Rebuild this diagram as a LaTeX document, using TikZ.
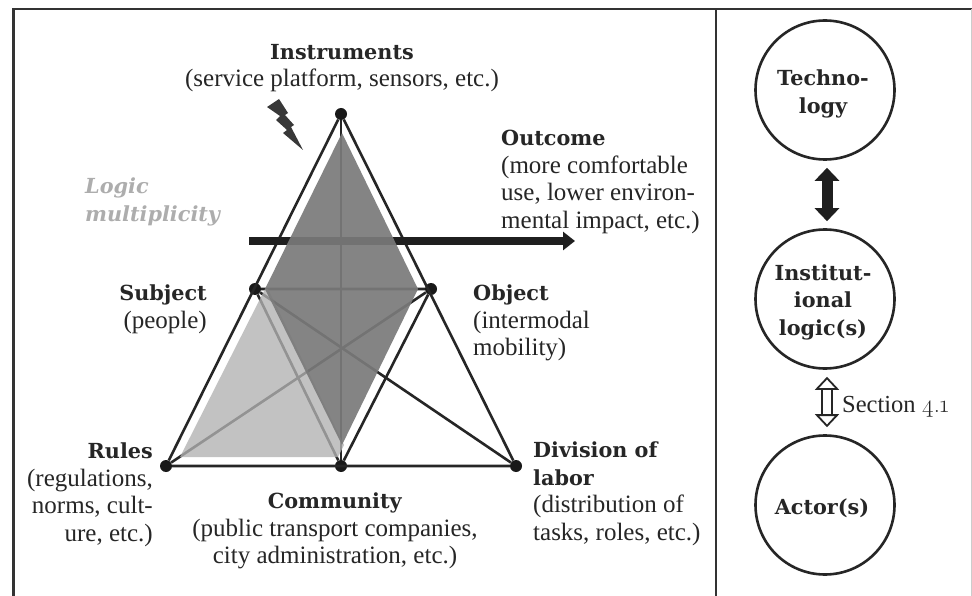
\documentclass[tikz,border=0pt]{standalone}
\usepackage{xcolor}
\usepackage{fontspec}
\setmainfont{Liberation Serif}[
    BoldFont={DejaVu Serif Bold}, BoldFeatures={Scale=.83},
    BoldItalicFont={DejaVu Serif Bold Italic}, BoldItalicFeatures={Scale=.83}]
\newfontfamily\oldnums[Numbers=OldStyle]{Latin Modern Roman}
\usetikzlibrary{arrows.meta}

\tikzset{
    body/.style={inner sep=0, font=\fontsize{25}{27.5}\selectfont, text=black!85},
    dot/.style={circle, fill=black!90, inner sep=0, minimum size=12},
    edge/.style={line width=2.6, black!85},
    lens/.style={draw=black!85, line width=2.6, circle, minimum size=139, inner sep=0},
    lenstext/.style={body, align=center, font=\fontsize{25}{27.5}\selectfont\bfseries},
    fatlink/.style={line width=11, black!88, {Triangle[length=13,width=24]}-{Triangle[length=13,width=24]}},
    hollowlink/.style={double=white, double distance=8, line width=1.8, black!85,
        {Triangle[open,fill=white,length=13,width=24,line width=1.8]}-{Triangle[open,fill=white,length=13,width=24,line width=1.8]}},
}

\begin{document}
\begin{tikzpicture}[x=1pt, y=-1pt]
    \useasboundingbox (0,0) rectangle (972,596);
    \fill[white] (0,0) rectangle (972,596);

    % frame
    \draw[line width=2.8, black!80] (13.5,596) -- (13.5,9) -- (972,9);
    \draw[line width=2.8, black!80] (716,9) -- (716,596);
    \draw[line width=.6, black!20] (971.5,9) -- (971.5,596);

    % activity system
    \node[dot] (instr) at (341,114) {};
    \node[dot] (subj) at (255,289) {};
    \node[dot] (obj) at (431,289) {};
    \node[dot] (rules) at (166,466) {};
    \node[dot] (comm) at (341,466) {};
    \node[dot] (div) at (516,466) {};

    \draw[edge] (instr) -- (rules) -- (div) -- (instr);
    \draw[edge] (subj) -- (obj) -- (comm) -- (subj);
    \draw[edge] (instr) -- (comm);
    \draw[edge] (rules) -- (obj);
    \draw[edge] (subj) -- (div);

    % outcome arrow
    \coordinate (barstart) at (249,241);
    \coordinate (barend) at (575,241);
    \draw[line width=8.5, black!88, -{Triangle[length=12,width=18]}] (barstart) -- (barend);

    % shaded areas
    \fill[black!30, fill opacity=.78] (261.5,296) -- (180,457) -- (338,457) -- (344,445) -- (268,289) -- (265,289) -- cycle;
    \fill[black!52, fill opacity=.92] (342,133) -- (418,289) -- (342,445) -- (265,289) -- cycle;

    % flash
    \fill[black!78] (267,107) -- (279,99) -- (288,113) -- (285,115) -- (294,125) -- (291,127)
        -- (303,150) -- (283,133) -- (287,130) -- (276,120) -- (280,116) -- cycle;

    % labels
    \node[body, align=center, anchor=north] (instrlabel) at (342,44) {\textbf{Instruments}\\(service platform, sensors, etc.)};
    \node[body, align=left, anchor=north west] (outlabel) at (501,130) {\textbf{Outcome}\\(more comfortable\\use, lower environ-\\mental impact, etc.)};
    \node[body, align=left, anchor=north west, text=black!32] (logiclabel) at (85,178) {\textbf{\itshape Logic}\\\textbf{\itshape multiplicity}};
    \node[body, align=right, anchor=north east] (subjlabel) at (207,285) {\textbf{Subject}\\(people)};
    \node[body, align=left, anchor=north west] (objlabel) at (473,285) {\textbf{Object}\\(intermodal\\mobility)};
    \node[body, align=right, anchor=north east] (ruleslabel) at (153,443) {\textbf{Rules}\\(regulations,\\norms, cult-\\ure, etc.)};
    \node[body, align=center, anchor=north] (commlabel) at (335,493) {\textbf{Community}\\(public transport companies,\\city administration, etc.)};
    \node[body, align=left, anchor=north west] (divlabel) at (533,442) {\textbf{Division of}\\\textbf{labor}\\(distribution of\\tasks, roles, etc.)};

    % right column
    \node[lens] (tech) at (825,90) {};
    \node[lens] (logics) at (825,299) {};
    \node[lens] (actors) at (825,505) {};
    \node[lenstext] (techtext) at (823,94) {Techno-\\logy};
    \node[lenstext] (logicstext) at (823,302) {Institut-\\ional\\logic(s)};
    \node[lenstext] (actorstext) at (822,508) {Actor(s)};

    \draw[fatlink, shorten >=7, shorten <=7] ([xshift=2]tech.south) -- ([xshift=2]logics.north);
    \draw[hollowlink, shorten >=7, shorten <=7] ([xshift=2]logics.south) -- ([xshift=2]actors.north);
    \node[body, font=\fontsize{24.5}{26}\selectfont, anchor=west] (seclabel) at (842,407) {Section {\oldnums 4.1}};
\end{tikzpicture}
\end{document}
